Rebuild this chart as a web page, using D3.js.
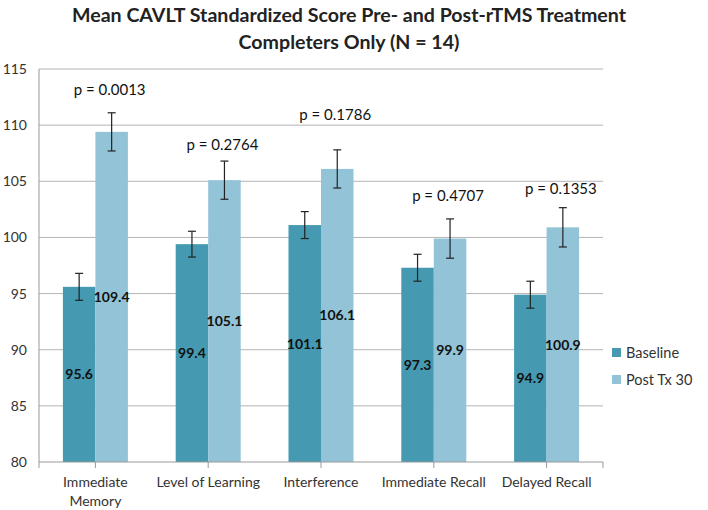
<!DOCTYPE html>
<html><head><meta charset="utf-8">
<script src="https://cdn.jsdelivr.net/npm/d3@7"></script>
<style>body{margin:0;background:#fff;} text{font-family:Lato,"Open Sans",sans-serif;}</style>
</head><body>
<svg id="c" width="708" height="510"></svg>
<script>
const categories = [["Immediate","Memory"],["Level of Learning"],["Interference"],["Immediate Recall"],["Delayed Recall"]];
const seriesNames = ["Baseline","Post Tx 30"];
const baseline = [95.6, 99.4, 101.1, 97.3, 94.9];
const post = [109.4, 105.1, 106.1, 99.9, 100.9];
const baselineErr = [1.2, 1.15, 1.2, 1.2, 1.2];
const postErr = [1.7, 1.7, 1.7, 1.75, 1.75];
const pLabels = ["p = 0.0013","p = 0.2764","p = 0.1786","p = 0.4707","p = 0.1353"];
const pLabelAt = [113.1, 108.2, 110.9, 103.7, 104.3];
const yTicks = [80,85,90,95,100,105,110,115];
const colors = ["#4599B0","#92C3D6"];

const svg = d3.select("#c");
const L=39, R=603, T=69, B=462;
const x = d3.scaleBand().domain(d3.range(categories.length)).range([L,R]).paddingInner(0).paddingOuter(0);
const bw = 32.5;
const y = d3.scaleLinear().domain([80,115]).range([B,T]);

// title
svg.append("text").attr("x",349).attr("y",22).attr("text-anchor","middle").attr("font-size",19.6).attr("font-weight","bold").attr("fill","#222").text("Mean CAVLT Standardized Score Pre- and Post-rTMS Treatment");
svg.append("text").attr("x",349).attr("y",49).attr("text-anchor","middle").attr("font-size",19.6).attr("font-weight","bold").attr("fill","#222").text("Completers Only (N = 14)");

// grid
svg.append("g").selectAll("line").data(yTicks.filter(d=>d>80)).join("line")
  .attr("x1",L).attr("x2",R).attr("y1",d=>y(d)).attr("y2",d=>y(d)).attr("stroke","#b4b4b4").attr("stroke-width",1);
svg.append("g").selectAll("text").data(yTicks).join("text")
  .attr("x",27).attr("y",d=>y(d)+5).attr("text-anchor","end").attr("font-size",14).attr("fill","#333").text(d=>d);

// bars
const series = [baseline, post];
const errs = [baselineErr, postErr];
series.forEach((vals,s)=>{
  const g = svg.append("g");
  g.selectAll("rect").data(vals).join("rect")
    .attr("x",(d,i)=>x(i)+x.bandwidth()/2 - bw + s*bw).attr("width",bw)
    .attr("y",d=>y(d)).attr("height",d=>B-y(d)).attr("fill",colors[s]);
});
// axes lines
svg.append("line").attr("x1",L).attr("x2",L).attr("y1",T).attr("y2",B).attr("stroke","#999");
svg.append("line").attr("x1",L).attr("x2",R).attr("y1",B).attr("y2",B).attr("stroke","#999");
const tickXs = [L].concat(d3.range(categories.length).map(i=>x(i)+x.bandwidth()/2)).concat([R]);
svg.append("g").selectAll("line").data(tickXs).join("line")
  .attr("x1",d=>d).attr("x2",d=>d).attr("y1",B).attr("y2",B+6).attr("stroke","#999");

// error bars
series.forEach((vals,s)=>{
  const g = svg.append("g").attr("stroke", "#222").attr("stroke-width",1.2);
  vals.forEach((v,i)=>{
    const cx = x(i)+x.bandwidth()/2 - bw/2 + s*bw;
    const e = errs[s][i];
    g.append("line").attr("x1",cx).attr("x2",cx).attr("y1",y(v+e)).attr("y2",y(v-e));
    g.append("line").attr("x1",cx-4).attr("x2",cx+4).attr("y1",y(v+e)).attr("y2",y(v+e));
    g.append("line").attr("x1",cx-4).attr("x2",cx+4).attr("y1",y(v-e)).attr("y2",y(v-e));
  });
});

// data labels
series.forEach((vals,s)=>{
  svg.append("g").selectAll("text").data(vals).join("text")
    .attr("x",(d,i)=>x(i)+x.bandwidth()/2 - bw/2 + s*bw)
    .attr("y",d=>(y(d)+B)/2+5).attr("text-anchor","middle")
    .attr("font-size",14).attr("font-weight","bold").attr("fill","#111").text(d=>d.toFixed(1));
});

// p labels
svg.append("g").selectAll("text").data(pLabels).join("text")
  .attr("x",(d,i)=>x(i)+x.bandwidth()/2 + bw/2 - 2)
  .attr("y",(d,i)=>y(pLabelAt[i])+5).attr("text-anchor","middle")
  .attr("font-size",15).attr("fill","#111").text(d=>d);

// category labels
categories.forEach((lines,i)=>{
  const t = svg.append("text").attr("x",x(i)+x.bandwidth()/2).attr("y",487).attr("text-anchor","middle").attr("font-size",14).attr("fill","#333");
  lines.forEach((ln,k)=>t.append("tspan").attr("x",x(i)+x.bandwidth()/2).attr("dy",k?19:0).text(ln));
});

// legend
seriesNames.forEach((n,i)=>{
  svg.append("rect").attr("x",612).attr("y",348+i*27).attr("width",9).attr("height",9).attr("fill",colors[i]);
  svg.append("text").attr("x",626).attr("y",358+i*27).attr("font-size",14.5).attr("fill","#333").text(n);
});
</script>
</body></html>
